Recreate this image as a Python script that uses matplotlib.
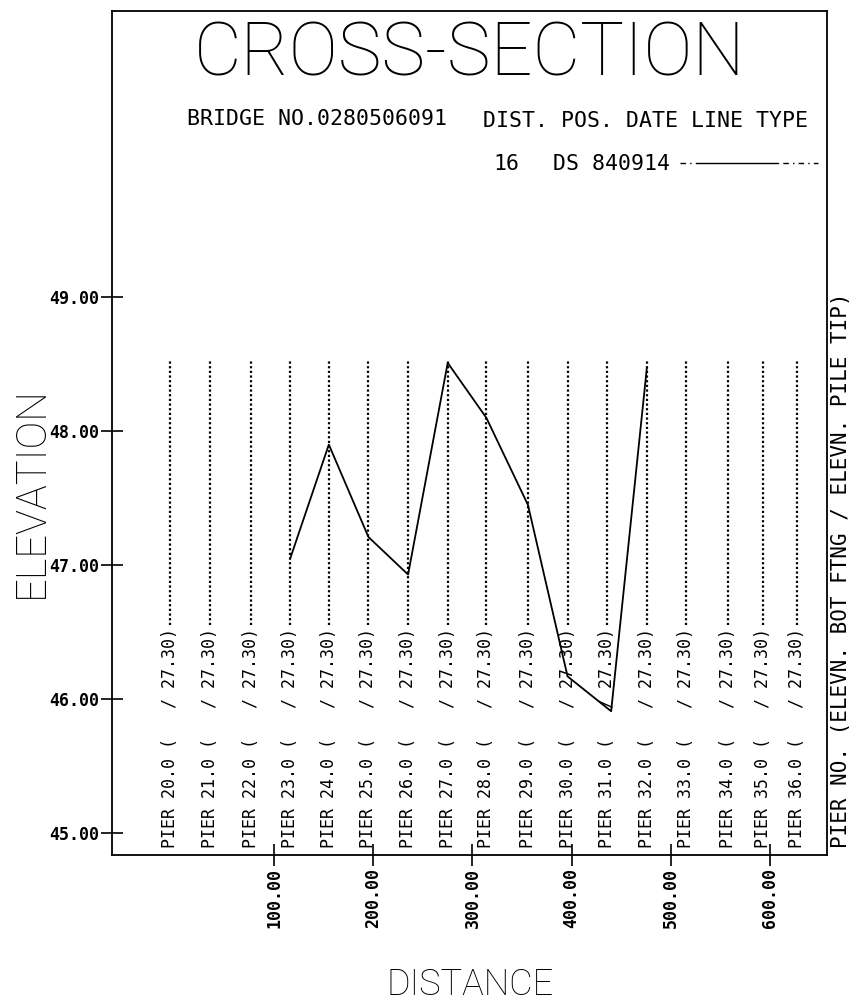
import matplotlib
matplotlib.use("Agg")
import matplotlib.pyplot as plt
from matplotlib.lines import Line2D

# pier data (distance along the bridge, number, pile tip elevation)
pier_no = [20, 21, 22, 23, 24, 25, 26, 27, 28, 29, 30, 31, 32, 33, 34, 35, 36]
pier_dist = [-5, 35, 76, 116, 155, 195, 235, 275, 314, 356, 396, 436, 476, 516, 558, 593, 628]
pile_tip = [27.30] * 17
pier_top = 48.53
pier_bottom = 46.55

# cross-section line DS 840914
ground_dist = [116, 155, 195, 235, 275, 314, 356, 396, 440, 476]
ground_elev = [47.05, 47.90, 47.21, 46.93, 48.51, 48.10, 47.45, 46.17, 45.91, 48.47]

x_ticks = [100, 200, 300, 400, 500, 600]
y_ticks = [45, 46, 47, 48, 49]

W, H = 849, 1008
MONO = "DejaVu Sans Mono"
THIN = ["Roboto", "DejaVu Sans"]


def px(x, y):
    return x / W, 1 - y / H


fig = plt.figure(figsize=(W / 100, H / 100), dpi=100)
ax = fig.add_axes([112 / W, 1 - 855 / H, (826.7 - 112) / W, (855 - 11) / H])
ax.set_xlim(-63.9, 657.6)
ax.set_ylim(44.837, 51.136)

for s in ax.spines.values():
    s.set_linewidth(1.3)

ax.set_xticks(x_ticks)
ax.set_xticklabels(["%.2f" % v for v in x_ticks], rotation=90, family=MONO,
                   fontsize=12, fontweight="bold")
ax.set_yticks(y_ticks)
ax.set_yticklabels(["%.2f" % v for v in y_ticks], family=MONO, fontsize=12, fontweight="bold")
ax.tick_params(axis="both", direction="inout", length=16, width=1.2, pad=1)

# pier lines and labels
for n, d, tip in zip(pier_no, pier_dist, pile_tip):
    ax.vlines(d, pier_bottom, pier_top, colors="black", linestyles=(0, (1, 1.1)), linewidth=1.6)
    ax.text(d, 44.89, "PIER %.1f (   / %.2f)" % (n, tip), rotation=90, ha="center",
            va="bottom", family=MONO, fontsize=12)

ax.plot(ground_dist, ground_elev, color="black", linewidth=1.3)

# header
fig.text(*px(470, 55), "CROSS-SECTION", ha="center", va="center", fontsize=53,
         fontweight=100, family=THIN)
fig.text(*px(187, 119), "BRIDGE NO.0280506091", ha="left", va="center", family=MONO, fontsize=15.5)
fig.text(*px(483, 121), "DIST. POS. DATE LINE TYPE", ha="left", va="center", family=MONO, fontsize=15.5)
fig.text(*px(493, 164), "16", ha="left", va="center", family=MONO, fontsize=15.5)
fig.text(*px(553, 164), "DS 840914", ha="left", va="center", family=MONO, fontsize=15.5)
fig.add_artist(Line2D([680 / W, 818 / W], [1 - 163 / H, 1 - 163 / H], color="black",
                      linewidth=1.0, linestyle=(0, (4, 3, 1, 3, 60, 3, 4, 3, 1, 3))))

fig.text(*px(31, 492), "ELEVATION", rotation=90, ha="center", va="center", fontsize=30,
         fontweight=100, family=THIN)
fig.text(*px(470, 985), "DISTANCE", ha="center", va="center", fontsize=26,
         fontweight=100, family=THIN)
fig.text(*px(841, 848), "PIER NO. (ELEVN. BOT_FTNG / ELEVN. PILE TIP)", rotation=90,
         ha="center", va="bottom", family=MONO, fontsize=15)

fig.savefig("out.png", dpi=100)
